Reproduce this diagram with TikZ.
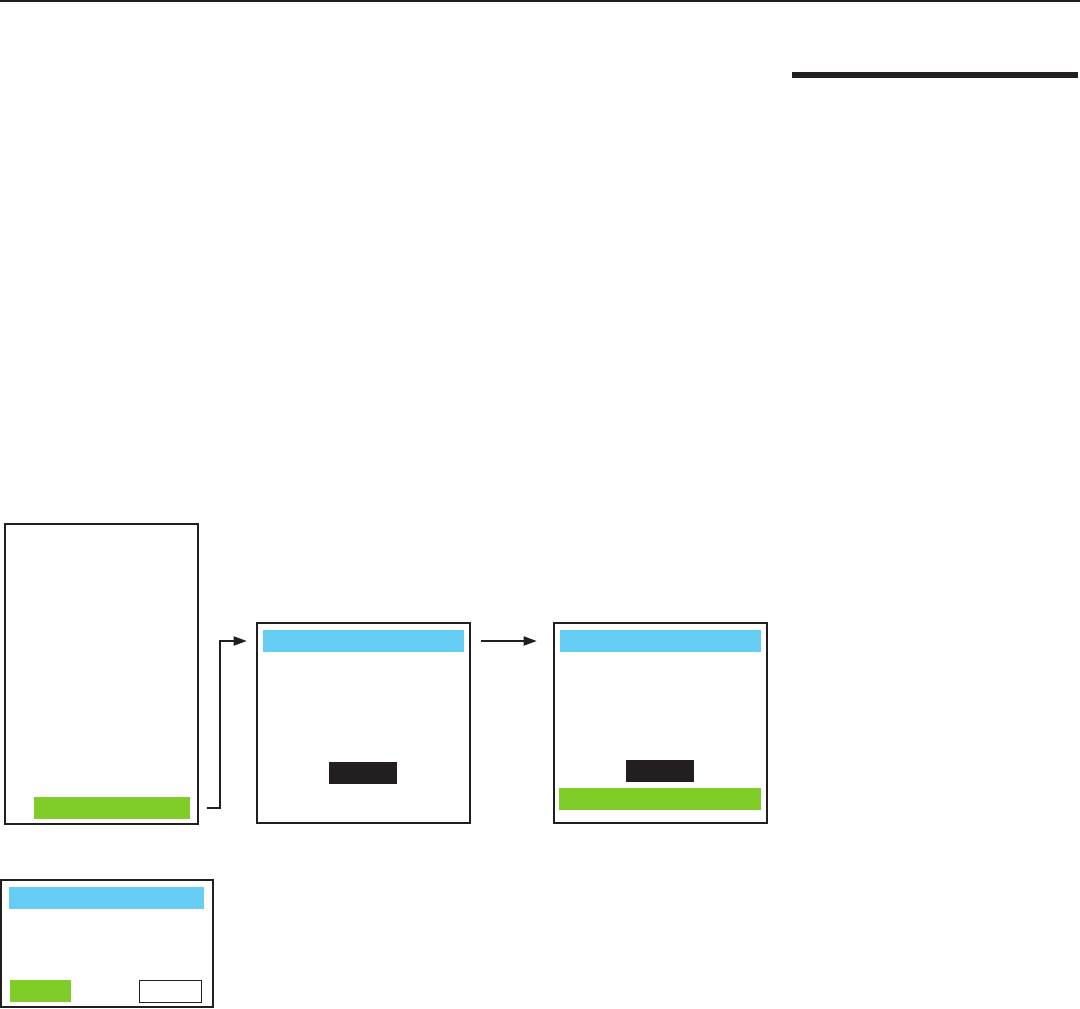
\documentclass[tikz,border=0pt]{standalone}
\usepackage{xcolor}
\usepackage{tikz}
\usetikzlibrary{positioning,arrows.meta,fit}
\definecolor{barblue}{RGB}{102,205,245}
\definecolor{bargreen}{RGB}{128,204,40}
\definecolor{inkblack}{RGB}{35,31,32}

\begin{document}
\begin{tikzpicture}[x=0.25mm, y=-0.25mm,
		screen/.style={draw=inkblack, line width=1.8pt, inner sep=0pt},
		bar/.style={inner sep=0pt, fill=#1},
		flow/.style={-{Triangle[length=3.3mm, width=2.3mm]}, line width=1.1pt, draw=inkblack}]
				\useasboundingbox (0,0) rectangle (1080,1008);
				
				\draw[line width=1.1pt, inkblack] (0,1) -- (1080,1);
				\fill[inkblack] (792,72) rectangle (1078,78);
				
				\node[screen, fit={(5,524) (198,824)}] (home) {};
				\node[bar=bargreen, fit={(34,797) (190,819)}] (homeok) {};
				
				\node[screen, fit={(257,623) (470,823)}] (confirm) {};
				\node[bar=barblue, fit={(263,630) (464,652)}] (confirmtitle) {};
				\node[bar=inkblack, fit={(329,762) (397,784)}] (confirmbtn) {};
				
				\node[screen, fit={(554,623) (767,823)}] (done) {};
				\node[bar=barblue, fit={(560,630) (761,652)}] (donetitle) {};
				\node[bar=inkblack, fit={(626,760) (694,782)}] (donebtn) {};
				\node[bar=bargreen, fit={(559,788) (761,810)}] (donestatus) {};
				
				\node[screen, fit={(1,880) (213,1007)}] (dialog) {};
				\node[bar=barblue, fit={(9,887) (204,909)}] (dialogtitle) {};
				\node[bar=bargreen, fit={(10,980) (71,1002)}] (dialogyes) {};
				\node[draw=inkblack, line width=0.7pt, inner sep=0pt, fit={(139,980) (201,1002)}] (dialogno) {};
				
				\draw[flow] ([xshift=2mm]home.east |- homeok) -- ([xshift=5.25mm]home.east |- homeok) |- ([xshift=-2.25mm]confirm.west |- confirmtitle);
				\draw[flow] ([xshift=2.5mm]confirm.east |- confirmtitle) -- ([xshift=-4mm]done.west |- donetitle);
			\end{tikzpicture}
\end{document}
